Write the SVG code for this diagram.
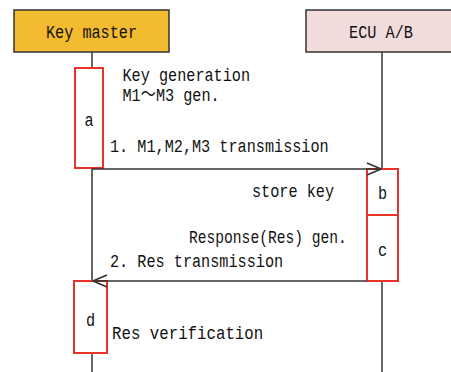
<svg xmlns="http://www.w3.org/2000/svg" width="451" height="372" viewBox="0 0 451 372">
  <style>
    .actor { stroke: #333; stroke-width: 1.5; }
    .life { stroke: #333; stroke-width: 1.5; fill: none; }
    .act { fill: #fff; stroke: #e8322b; stroke-width: 2; }
    .msg { stroke: #333; stroke-width: 1.5; fill: none; }
    text { font-family: "Liberation Mono", "Noto Sans CJK JP", monospace; font-size: 19px; fill: #111; }
    .mid { text-anchor: middle; }
  </style>
  <defs>
    <marker id="open" viewBox="0 0 16 14" refX="15" refY="7" markerWidth="16" markerHeight="14" markerUnits="userSpaceOnUse" orient="auto">
      <path d="M1,1 L15,7 L1,13" fill="none" stroke="#333" stroke-width="1.5"/>
    </marker>
  </defs>

  <!-- lifelines -->
  <g id="lifelines">
    <line class="life" x1="92" y1="52" x2="92" y2="372"/>
    <line class="life" x1="382" y1="52" x2="382" y2="372"/>
  </g>

  <!-- text is set in a condensed monospace: each label is scaled to ~80% width -->
  <g id="key-master">
    <rect class="actor" x="14" y="10" width="155" height="42" fill="#f3bb2f"/>
    <text class="mid" transform="matrix(0.8 0 0 1 91.5 38)">Key master</text>
  </g>

  <g id="ecu">
    <rect class="actor" x="306" y="10" width="150" height="42" fill="#f2dcdb"/>
    <text class="mid" transform="matrix(0.8 0 0 1 381 38)">ECU A/B</text>
  </g>

  <g id="act-a">
    <rect class="act" x="75" y="68" width="28" height="100"/>
    <text class="mid" transform="matrix(0.8 0 0 1 89 126)">a</text>
  </g>

  <g id="act-b">
    <rect class="act" x="367" y="169" width="31" height="46"/>
    <text class="mid" transform="matrix(0.8 0 0 1 382.5 199)">b</text>
  </g>

  <g id="act-c">
    <rect class="act" x="367" y="215" width="31" height="66"/>
    <text class="mid" transform="matrix(0.8 0 0 1 382.5 256)">c</text>
  </g>

  <g id="act-d">
    <rect class="act" x="74" y="281" width="33" height="72"/>
    <text class="mid" transform="matrix(0.8 0 0 1 90.5 326)">d</text>
  </g>

  <!-- messages -->
  <g id="connectors">
    <line class="msg" x1="92" y1="169" x2="381" y2="169" marker-end="url(#open)"/>
    <line class="msg" x1="367" y1="281" x2="93" y2="281" marker-end="url(#open)"/>
  </g>

  <g id="labels">
    <text transform="matrix(0.8 0 0 1 122.5 80.5)">Key generation</text>
    <text transform="matrix(0.8 0 0 1 122.5 100.5)">M1〜M3 gen.</text>
    <text transform="matrix(0.8 0 0 1 110 152)">1. M1,M2,M3 transmission</text>
    <text transform="matrix(0.8 0 0 1 252 197)">store key</text>
    <text transform="matrix(0.77 0 0 1 189 242.5)">Response(Res) gen.</text>
    <text transform="matrix(0.8 0 0 1 110 267)">2. Res transmission</text>
    <text transform="matrix(0.83 0 0 1 112 339)">Res verification</text>
  </g>
</svg>
